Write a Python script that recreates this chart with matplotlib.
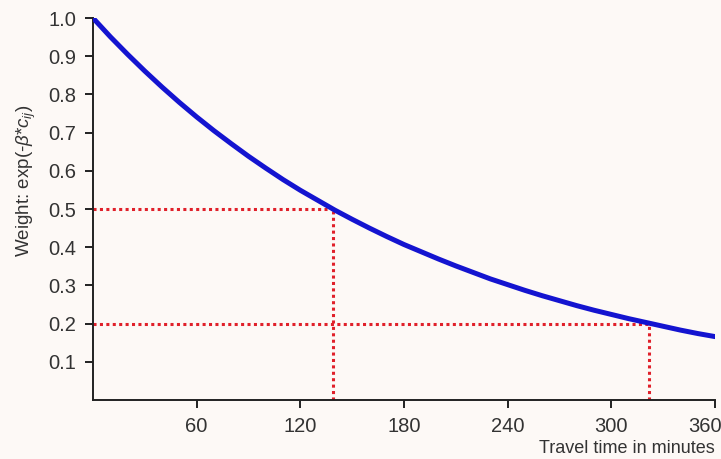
import matplotlib
matplotlib.use('Agg')
import matplotlib.pyplot as plt
import matplotlib.transforms as mtransforms

# Curve values (travel time in minutes -> weight)
minutes = [0, 10, 20, 30, 40, 50, 60, 70, 80, 90, 100, 110, 120, 130, 140,
           150, 160, 170, 180, 190, 200, 210, 220, 230, 240, 250, 260, 270,
           280, 290, 300, 310, 320, 330, 340, 350, 360]
weight = [1.000, 0.951, 0.905, 0.861, 0.819, 0.779, 0.741, 0.705, 0.671,
          0.638, 0.607, 0.577, 0.549, 0.523, 0.497, 0.473, 0.450, 0.428,
          0.407, 0.388, 0.369, 0.351, 0.334, 0.317, 0.302, 0.287, 0.273,
          0.260, 0.247, 0.235, 0.224, 0.213, 0.203, 0.193, 0.183, 0.174,
          0.166]

# Reference guide lines (weight level, travel time where curve hits it)
guide_levels = [0.5, 0.2]
guide_times = [139, 322]

x_ticks = [60, 120, 180, 240, 300, 360]
y_ticks = [0.1, 0.2, 0.3, 0.4, 0.5, 0.6, 0.7, 0.8, 0.9, 1.0]

plt.rcParams['font.family'] = ['Liberation Sans', 'DejaVu Sans']
plt.rcParams['mathtext.fontset'] = 'custom'
plt.rcParams['mathtext.it'] = 'Liberation Sans:italic'
plt.rcParams['mathtext.rm'] = 'Liberation Sans'

bg = '#fdf9f6'
fig = plt.figure(figsize=(7.21, 4.59), dpi=100, facecolor=bg)
ax = fig.add_axes([93 / 721, 59 / 459, 622 / 721, 382 / 459], facecolor=bg)

# guide lines
for lvl, t in zip(guide_levels, guide_times):
    ax.plot([0, t], [lvl, lvl], color='#e0202a', lw=2.2, ls=(0, (1, 1.1)), zorder=2)
    ax.plot([t, t], [0, lvl], color='#e0202a', lw=2.2, ls=(0, (1, 1.1)), zorder=2)

ax.plot(minutes, weight, color='#1414d0', lw=3.6, solid_capstyle='round',
        solid_joinstyle='round', zorder=3)

ax.set_xlim(0, 360)
ax.set_ylim(0, 1.0)
ax.set_xticks(x_ticks)
ax.set_yticks(y_ticks)
ax.set_yticklabels([f'{v:.1f}' for v in y_ticks])

for s in ['top', 'right']:
    ax.spines[s].set_visible(False)
for s in ['left', 'bottom']:
    ax.spines[s].set_color('#222222')
    ax.spines[s].set_linewidth(1.4)
ax.tick_params(direction='out', length=6, width=1.4, colors='#222222',
               labelsize=14.5, labelcolor='#333333', pad=6)

# keep the last x tick label inside the figure edge
last = ax.get_xticklabels()[-1]
last.set_transform(last.get_transform() +
                   mtransforms.ScaledTranslation(-10 / 100, 0, fig.dpi_scale_trans))

ax.set_xlabel('Travel time in minutes', fontsize=13, color='#333333', ha='right')
ax.xaxis.set_label_coords(1.0, -0.105)
ax.set_ylabel(r'Weight: exp(-$\beta$*$c_{ij}$)', fontsize=13.5, color='#333333')
ax.yaxis.set_label_coords(-0.088, 0.573)

fig.savefig('out.png', dpi=100, facecolor=bg)
